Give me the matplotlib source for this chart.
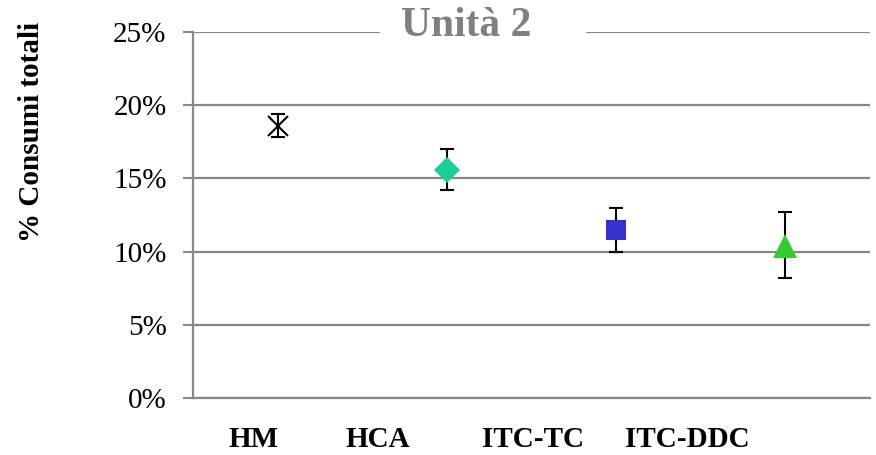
import numpy as np
import matplotlib.pyplot as plt

# Data
categories = ["HM", "HCA", "ITC-TC", "ITC-DDC"]
values = [18.6, 15.6, 11.5, 10.4]
err_low = [0.8, 1.4, 1.5, 2.2]
err_high = [0.8, 1.4, 1.5, 2.3]
markers = ["x", "D", "s", "^"]
colors = ["black", "#1ECC96", "#3333CC", "#33CC33"]
msizes = [14, 13, 14, 17]
# label positions (they sit left of the points in the original)
label_pos = [-0.14, 0.593, 1.509, 2.419]

plt.rcParams['font.family'] = ['Liberation Serif', 'DejaVu Serif']
grey = '#888888'

fig = plt.figure(figsize=(8.76, 4.55), dpi=100)
ax = fig.add_axes([193/876, 1 - 398/455, 677/876, 366/455])

x = np.arange(len(categories))
for i in range(len(categories)):
    ax.errorbar(x[i], values[i], yerr=[[err_low[i]], [err_high[i]]],
                fmt='none', ecolor='black', elinewidth=1.5, capsize=5,
                capthick=1.5, zorder=3)
    ax.plot(x[i], values[i], marker=markers[i], markersize=msizes[i],
            color=colors[i], markeredgewidth=1.5 if markers[i] == 'x' else 0,
            linestyle='none', zorder=4)

ax.set_xlim(-0.5, 3.5)
ax.set_ylim(0, 25)
ax.set_yticks(np.arange(0, 26, 5))
ax.set_yticklabels(["%d%%" % v for v in range(0, 26, 5)], fontsize=21)
ax.yaxis.grid(True, color=grey, linewidth=1.6)
ax.set_axisbelow(True)
ax.tick_params(axis='y', length=7, width=1.5, color=grey, pad=12)

ax.set_xticks(label_pos)
ax.set_xticklabels(categories, fontsize=21, fontweight='bold')
ax.tick_params(axis='x', length=0, pad=20)

for s in ['top', 'right']:
    ax.spines[s].set_visible(False)
for s in ['left', 'bottom']:
    ax.spines[s].set_color(grey)
    ax.spines[s].set_linewidth(1.6)

fig.text(32/876, 1 - 132/455, "% Consumi totali", rotation=90,
         fontsize=21, fontweight='bold', ha='center', va='center')

ax.text(0.403, 1.017, "Unità 2", transform=ax.transAxes, fontsize=30,
        fontweight='bold', color='#808080', ha='center', va='center',
        bbox=dict(boxstyle='square,pad=0.3', fc='white', ec='none'),
        zorder=5, clip_on=False)
# widen the white gap in the top gridline
ax.axhspan(24.6, 25.4, xmin=(380-193)/677, xmax=(585-193)/677,
           color='white', zorder=2, clip_on=False)

fig.savefig('out.png', dpi=100)
